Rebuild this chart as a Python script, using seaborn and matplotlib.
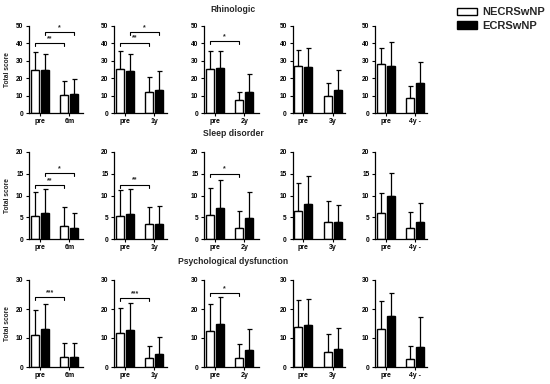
import matplotlib
matplotlib.use("Agg")
import matplotlib.pyplot as plt
from matplotlib.patches import Patch
from matplotlib.container import BarContainer
import seaborn as sns
import pandas as pd

# ---------------- data ----------------
times = ["6m", "1y", "2y", "3y", "4y -"]
groups = ["NECRSwNP", "ECRSwNP"]
domains = ["Rhinologic", "Sleep disorder", "Psychological dysfunction"]
ymax = [50, 20, 30]
ystep = [10, 5, 10]

# means [pre, post] for each follow-up column
rhino_ne_pre = [25.0, 25.3, 25.5, 27.0, 28.3]
rhino_ne_post = [10.3, 12.0, 7.3, 9.8, 8.5]
rhino_e_pre = [24.5, 24.3, 25.7, 26.5, 27.0]
rhino_e_post = [10.8, 13.0, 12.0, 13.5, 17.0]
rhino_ne_pre_sd = [10.0, 10.2, 10.3, 9.3, 8.9]
rhino_ne_post_sd = [8.0, 8.7, 4.7, 7.2, 7.2]
rhino_e_pre_sd = [9.3, 9.7, 9.8, 11.0, 13.8]
rhino_e_post_sd = [8.5, 11.0, 10.7, 11.5, 12.5]

sleep_ne_pre = [5.2, 5.4, 5.5, 6.5, 6.0]
sleep_ne_post = [3.0, 3.5, 2.5, 4.0, 2.5]
sleep_e_pre = [5.9, 5.8, 7.1, 8.0, 10.0]
sleep_e_post = [2.5, 3.4, 4.8, 4.0, 4.0]
sleep_ne_pre_sd = [5.6, 5.9, 6.2, 6.4, 4.6]
sleep_ne_post_sd = [4.3, 3.8, 3.9, 4.7, 3.8]
sleep_e_pre_sd = [5.7, 5.8, 6.5, 6.4, 5.2]
sleep_e_post_sd = [3.4, 4.3, 6.0, 3.9, 4.3]

psych_ne_pre = [11.2, 11.6, 12.4, 13.8, 13.1]
psych_ne_post = [3.3, 3.2, 3.2, 5.2, 2.8]
psych_e_pre = [13.0, 12.7, 14.8, 14.6, 17.5]
psych_e_post = [3.3, 4.5, 5.8, 6.1, 6.8]
psych_ne_pre_sd = [8.4, 8.8, 9.3, 9.3, 9.6]
psych_ne_post_sd = [4.9, 4.0, 4.9, 6.2, 4.5]
psych_e_pre_sd = [8.7, 9.3, 9.4, 8.8, 8.1]
psych_e_post_sd = [4.9, 5.7, 7.2, 7.3, 10.4]

# significance brackets: (domain row, column, group index, height, label)
brackets = [
    (0, 0, 0, 40.0, "**"), (0, 0, 1, 46.3, "*"),
    (0, 1, 0, 40.4, "**"), (0, 1, 1, 46.3, "*"),
    (0, 2, 0, 41.3, "*"),
    (1, 0, 0, 12.4, "**"), (1, 0, 1, 15.1, "*"),
    (1, 1, 0, 12.5, "**"),
    (1, 2, 0, 15.0, "*"),
    (2, 0, 0, 24.2, "***"),
    (2, 1, 0, 23.8, "***"),
    (2, 2, 0, 25.5, "*"),
]

means = [
    (rhino_ne_pre, rhino_ne_post, rhino_e_pre, rhino_e_post),
    (sleep_ne_pre, sleep_ne_post, sleep_e_pre, sleep_e_post),
    (psych_ne_pre, psych_ne_post, psych_e_pre, psych_e_post),
]
sds = [
    (rhino_ne_pre_sd, rhino_ne_post_sd, rhino_e_pre_sd, rhino_e_post_sd),
    (sleep_ne_pre_sd, sleep_ne_post_sd, sleep_e_pre_sd, sleep_e_post_sd),
    (psych_ne_pre_sd, psych_ne_post_sd, psych_e_pre_sd, psych_e_post_sd),
]

# ---------------- style ----------------
sns.set_style("ticks")
plt.rcParams["font.family"] = ["Liberation Sans", "DejaVu Sans"]
plt.rcParams["font.weight"] = "bold"

W, H = 550, 384
fig = plt.figure(figsize=(W / 100, H / 100), dpi=100)

col_left = [29, 114, 204, 292.5, 375]
col_width = [54, 53, 55, 52, 52]
row_top = [26, 152, 280]
ax_h = 87
palette = {"NECRSwNP": "white", "ECRSwNP": "black"}

for r in range(3):
    ne_pre, ne_post, e_pre, e_post = means[r]
    ne_pre_sd, ne_post_sd, e_pre_sd, e_post_sd = sds[r]
    for c in range(5):
        ax = fig.add_axes([col_left[c] / W, 1 - (row_top[r] + ax_h) / H,
                           col_width[c] / W, ax_h / H])
        xcats = ["pre", times[c]]
        df = pd.DataFrame({
            "time": xcats * 2,
            "group": [groups[0]] * 2 + [groups[1]] * 2,
            "score": [ne_pre[c], ne_post[c], e_pre[c], e_post[c]],
        })
        sns.barplot(data=df, x="time", y="score", hue="group", order=xcats,
                    hue_order=groups, palette=palette, edgecolor="black",
                    linewidth=1.0, width=0.68, gap=0.2, errorbar=None,
                    legend=False, ax=ax, zorder=2)
        bar_conts = [ct for ct in ax.containers if isinstance(ct, BarContainer)]
        err = [[ne_pre_sd[c], ne_post_sd[c]], [e_pre_sd[c], e_post_sd[c]]]
        centers = []
        for gi, cont in enumerate(bar_conts):
            xs = [b.get_x() + b.get_width() / 2 for b in cont.patches]
            ys = [b.get_height() for b in cont.patches]
            centers.append(xs)
            ax.errorbar(xs, ys, yerr=[[0, 0], err[gi]], fmt="none",
                        ecolor="black", elinewidth=0.9, capsize=1.8,
                        capthick=0.9, zorder=1, clip_on=False)
        ax.set_xlim(-0.37, col_width[c] / 29.5 - 0.37)
        ax.set_ylim(0, ymax[r])
        ax.set_yticks(range(0, ymax[r] + 1, ystep[r]))
        ax.set_xlabel("")
        if c == 0:
            ax.set_ylabel("Total score", fontsize=4.8, fontweight="bold")
            ax.yaxis.set_label_coords(-0.33, 0.5)
        else:
            ax.set_ylabel("")
        sns.despine(ax=ax)
        for s in ["left", "bottom"]:
            ax.spines[s].set_linewidth(0.9)
            ax.spines[s].set_color("black")
        ax.tick_params(axis="y", length=2.5, width=0.8, pad=1.5,
                       labelsize=4.8, colors="black")
        ax.tick_params(axis="x", length=2, width=0.8, pad=1.8,
                       labelsize=5, colors="black")
        for lab in ax.get_xticklabels() + ax.get_yticklabels():
            lab.set_fontweight("bold")
        # brackets
        arm = 0.035 * ymax[r]
        for (br, bc, bg, bh, blab) in brackets:
            if br == r and bc == c:
                x0, x1 = centers[bg][0], centers[bg][1]
                ax.plot([x0, x0, x1, x1], [bh - arm, bh, bh, bh - arm],
                        color="black", lw=0.8, clip_on=False, zorder=3)
                ax.text((x0 + x1) / 2, bh + 0.012 * ymax[r], blab,
                        ha="center", va="bottom", fontsize=5,
                        fontweight="bold")

# titles
title_y = [9, 133, 262]
for r in range(3):
    fig.text(233 / W, 1 - title_y[r] / H, domains[r], ha="center",
             va="center", fontsize=6.2, fontweight="bold")

# legend
handles = [Patch(facecolor="white", edgecolor="black", linewidth=1.0),
           Patch(facecolor="black", edgecolor="black", linewidth=1.0)]
fig.legend(handles, groups, loc="upper left",
           bbox_to_anchor=(457 / W, 1 - 7 / H), frameon=False,
           borderpad=0, borderaxespad=0, handlelength=1.8,
           handleheight=0.6, handletextpad=0.45, labelspacing=0.35,
           prop={"size": 8, "weight": "bold"})

fig.savefig("out.png", dpi=100)
